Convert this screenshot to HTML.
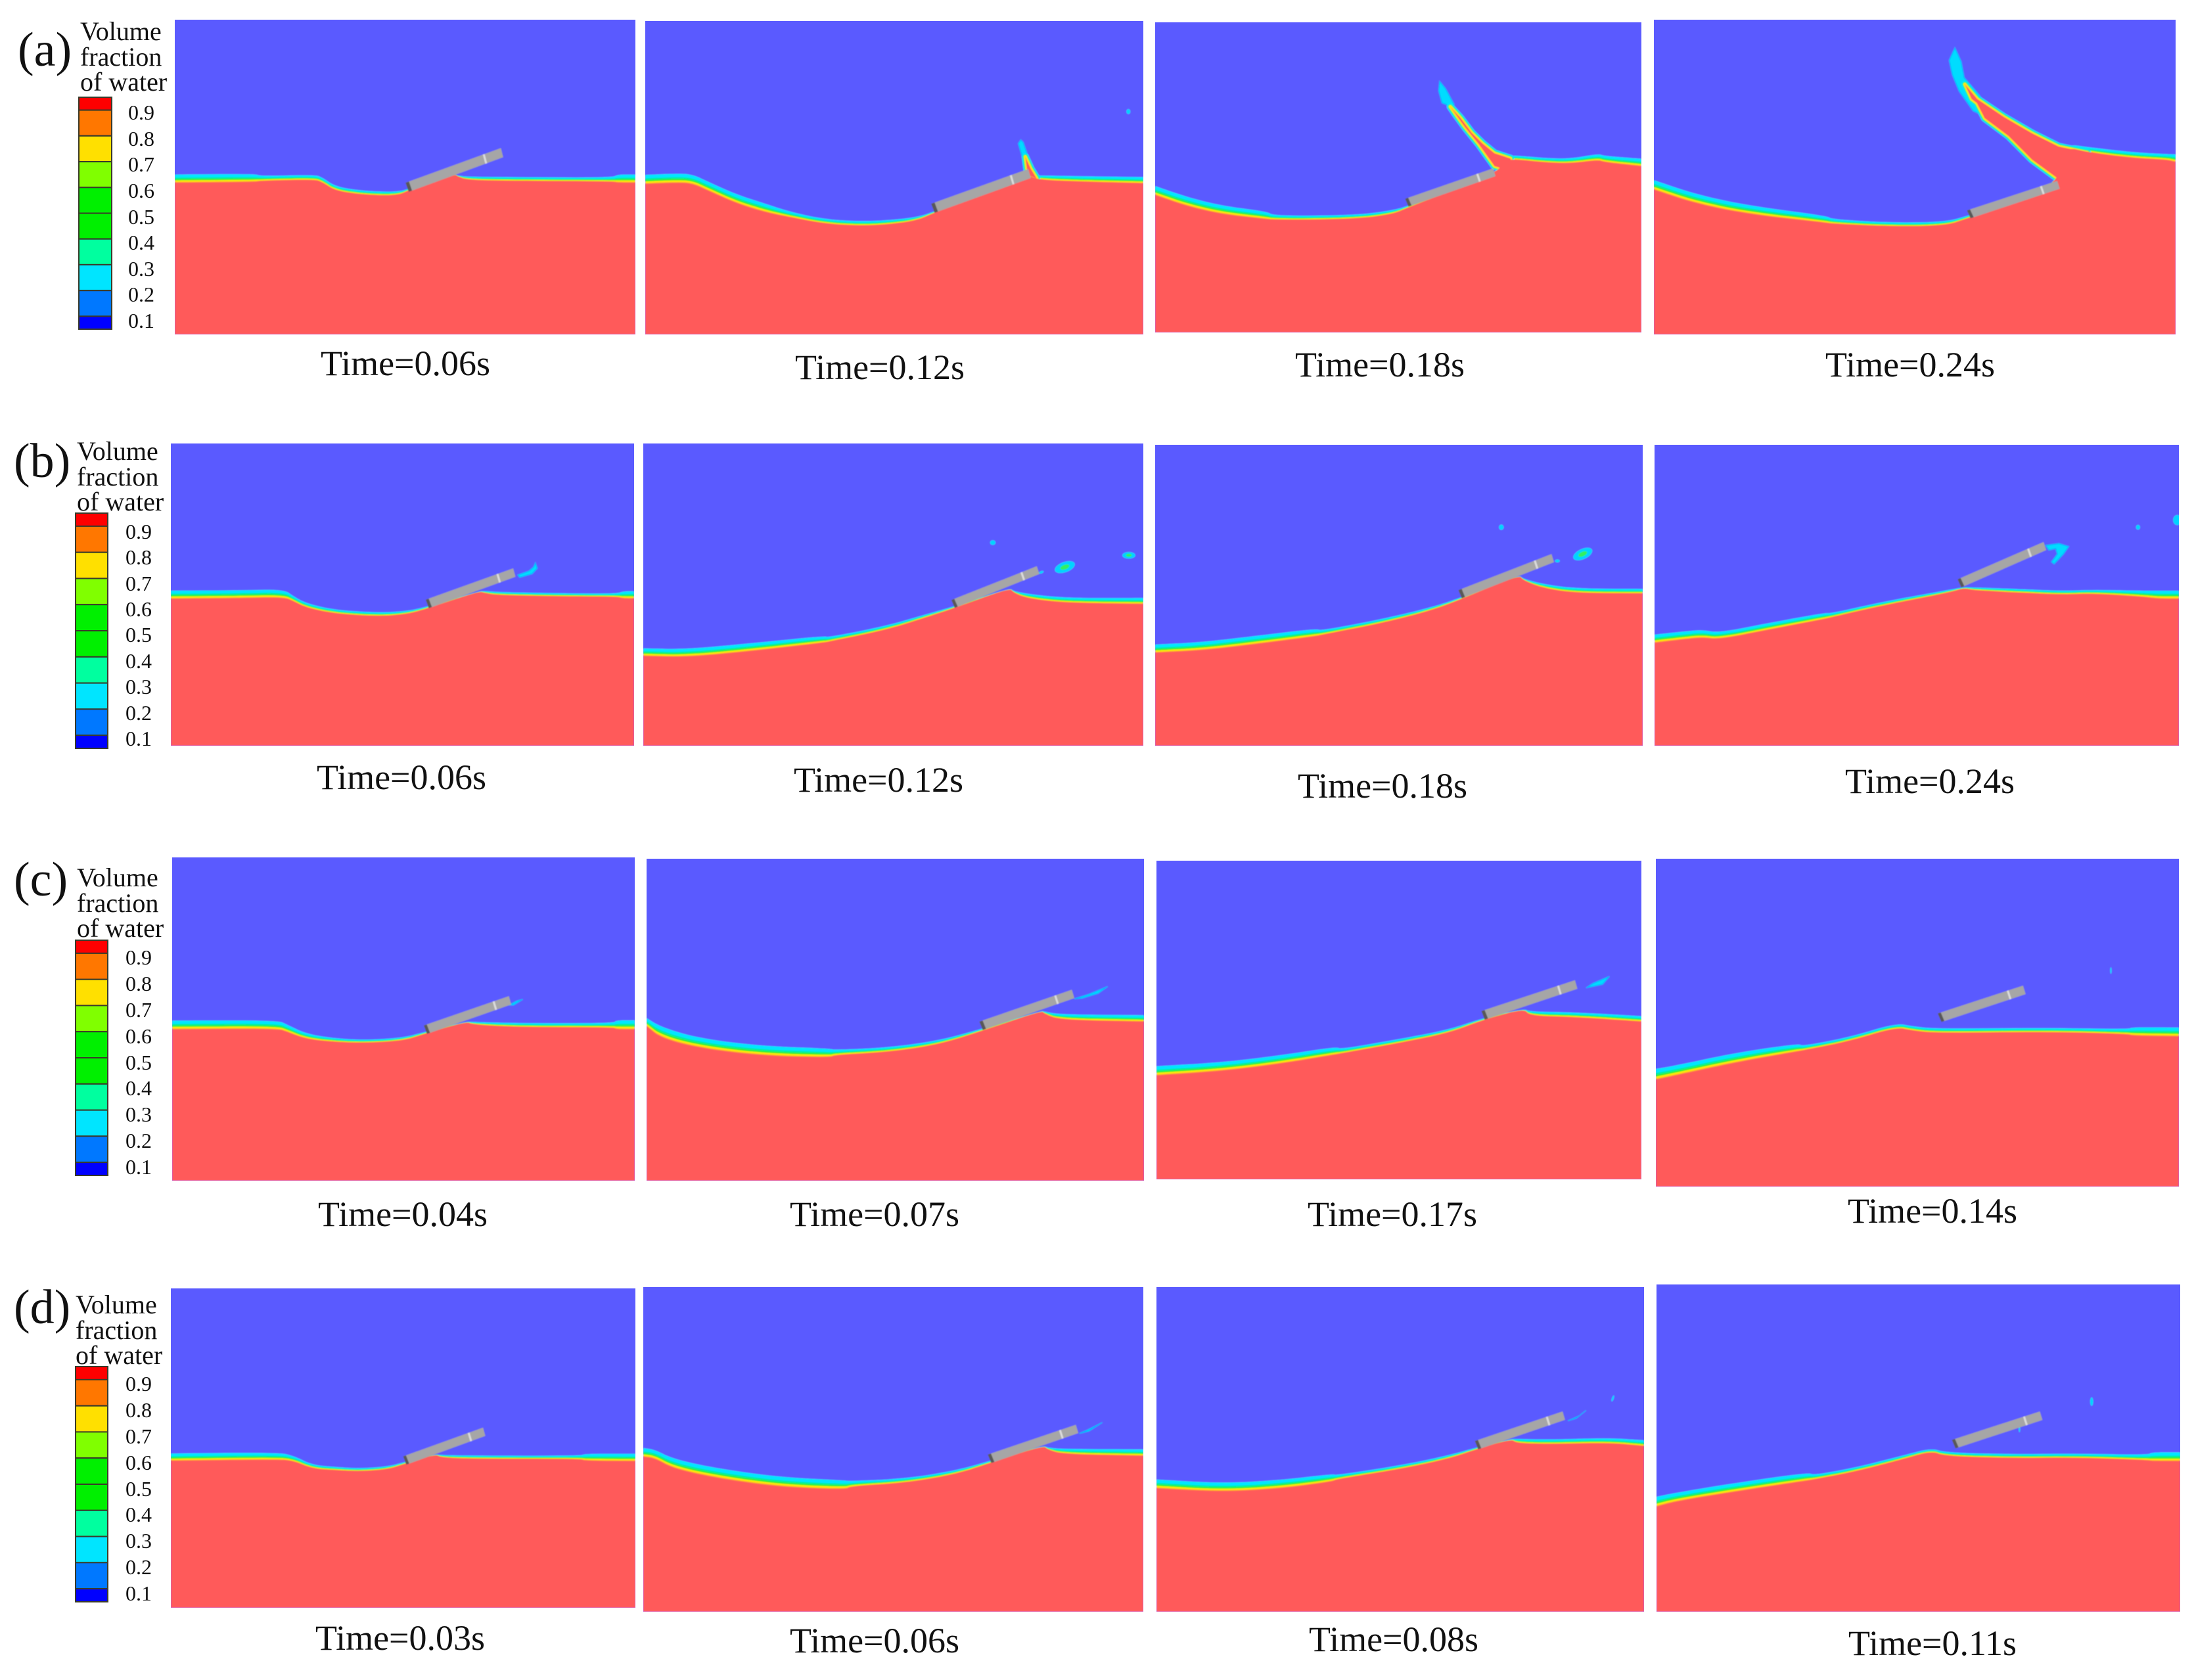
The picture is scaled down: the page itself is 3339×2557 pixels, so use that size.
<!DOCTYPE html>
<html lang="en">
<head>
<meta charset="utf-8">
<title>Volume fraction of water contours</title>
<style>
html,body{margin:0;padding:0;background:#fff;}
svg{display:block;}
text{font-family:"Liberation Serif",serif;fill:#111;}
.t{font-size:54px;text-anchor:middle;}
.p{font-size:74px;}
.v{font-size:40px;}
.l{font-size:32px;}
</style>
</head>
<body>
<svg id="figure" xmlns="http://www.w3.org/2000/svg" width="3339" height="2557" viewBox="0 0 3339 2557">
<defs>
<filter id="soft" x="-2%" y="-2%" width="104%" height="104%"><feGaussianBlur stdDeviation="0.9"/></filter>
</defs>
<rect x="0" y="0" width="3339" height="2557" fill="#ffffff"/>
<g id="panels"></g>
<g id="legends"></g>

<text class="p" x="27" y="100">(a)</text>
<text class="p" x="21" y="726">(b)</text>
<text class="p" x="21" y="1363">(c)</text>
<text class="p" x="21" y="2014">(d)</text>

<g><text class="v" x="122" y="61">Volume</text><text class="v" x="122" y="100">fraction</text><text class="v" x="122" y="138">of water</text></g>
<g><text class="v" x="117" y="700">Volume</text><text class="v" x="117" y="739">fraction</text><text class="v" x="117" y="777">of water</text></g>
<g><text class="v" x="117" y="1349">Volume</text><text class="v" x="117" y="1388">fraction</text><text class="v" x="117" y="1426">of water</text></g>
<g><text class="v" x="115" y="1999">Volume</text><text class="v" x="115" y="2038">fraction</text><text class="v" x="115" y="2076">of water</text></g>

<g>
<text class="l" x="195" y="182">0.9</text><text class="l" x="195" y="222">0.8</text><text class="l" x="195" y="261">0.7</text><text class="l" x="195" y="301">0.6</text><text class="l" x="195" y="341">0.5</text><text class="l" x="195" y="380">0.4</text><text class="l" x="195" y="420">0.3</text><text class="l" x="195" y="459">0.2</text><text class="l" x="195" y="499">0.1</text>
</g>
<g>
<text class="l" x="191" y="820">0.9</text><text class="l" x="191" y="859">0.8</text><text class="l" x="191" y="899">0.7</text><text class="l" x="191" y="938">0.6</text><text class="l" x="191" y="977">0.5</text><text class="l" x="191" y="1017">0.4</text><text class="l" x="191" y="1056">0.3</text><text class="l" x="191" y="1096">0.2</text><text class="l" x="191" y="1135">0.1</text>
</g>
<g>
<text class="l" x="191" y="1468">0.9</text><text class="l" x="191" y="1508">0.8</text><text class="l" x="191" y="1548">0.7</text><text class="l" x="191" y="1588">0.6</text><text class="l" x="191" y="1628">0.5</text><text class="l" x="191" y="1667">0.4</text><text class="l" x="191" y="1707">0.3</text><text class="l" x="191" y="1747">0.2</text><text class="l" x="191" y="1787">0.1</text>
</g>
<g>
<text class="l" x="191" y="2117">0.9</text><text class="l" x="191" y="2157">0.8</text><text class="l" x="191" y="2197">0.7</text><text class="l" x="191" y="2237">0.6</text><text class="l" x="191" y="2277">0.5</text><text class="l" x="191" y="2316">0.4</text><text class="l" x="191" y="2356">0.3</text><text class="l" x="191" y="2396">0.2</text><text class="l" x="191" y="2436">0.1</text>
</g>

<text class="t" x="617" y="571">Time=0.06s</text>
<text class="t" x="1339" y="577">Time=0.12s</text>
<text class="t" x="2100" y="573">Time=0.18s</text>
<text class="t" x="2907" y="573">Time=0.24s</text>
<text class="t" x="611" y="1201">Time=0.06s</text>
<text class="t" x="1337" y="1205">Time=0.12s</text>
<text class="t" x="2104" y="1214">Time=0.18s</text>
<text class="t" x="2937" y="1207">Time=0.24s</text>
<text class="t" x="613" y="1866">Time=0.04s</text>
<text class="t" x="1331" y="1866">Time=0.07s</text>
<text class="t" x="2119" y="1866">Time=0.17s</text>
<text class="t" x="2941" y="1861">Time=0.14s</text>
<text class="t" x="609" y="2511">Time=0.03s</text>
<text class="t" x="1331" y="2515">Time=0.06s</text>
<text class="t" x="2121" y="2513">Time=0.08s</text>
<text class="t" x="2941" y="2519">Time=0.11s</text>
</svg>

<script>
/* Values are in panel units: x = % of panel width, h = % of panel height above its floor. */
const legendColors = ['#ff0000','#ff7700','#ffe000','#80ff00','#00f000','#00f000','#00ff9f','#00e5ff','#0078ff','#0000ff'];
const legendWeights = [0.5,1,1,1,1,1,1,1,1,0.5];
const bandFractions = [1,0.62,0.45,0.28,0.1];
const bandColors = ['#00e6ff','#00f0a0','#30f030','#ffe800','#ff9a30'];

const a1X=[0,17.6,18.5,30.3,32,34.8,40.2,45.8,49,50.8,60.8,61.4,63.5,71.2,94.9,96.2,100];
const a1H=[48.2,48.4,48.8,49.2,48.4,45.7,44.5,44.1,44.5,45.8,50.9,50.2,49.1,48.8,48.6,48.2,48.2];
const a1B=[2.6,2.6,1.5,1.5,1.5,1.3,1.2,1.2,1,0.5,0,0.3,1,1.2,1.2,2.6,2.6];
const a1Plate=[50.1,48.2,70.8,59.2,2.9];

const a2X=[0,6.2,9.4,12.6,18.5,24.3,28.8,36,43.7,50.2,54.8,58,77.1,77.8,79.7,85.9,100];
const a2H=[48,48.4,48.2,45.9,41.7,38.9,37.5,35.3,34.6,35.3,36.5,38.8,50.6,50.1,49.3,48.8,48.2];
const a2B=[2.9,2.9,2.9,2.8,2.8,2.7,1.7,1.4,1.4,1.3,1,0.4,0,0.5,1.4,1.7,2];
const a2Plate=[57.4,41.7,76.9,52.8,2.9];
const a2Jet=[[76.8,50.8],[76.3,56.7],[77.4,52.9],[78.6,49.8]];
const a2Flame=[[75.4,62.1],[75.9,61.3],[76.8,57.1],[77.4,52.9],[76.7,52.9],[75.6,57.1],[74.9,60.9]];
const a2Drops=[[97,71.1,0.4,0.8,0,0]];

const a3X=[0,6.6,13.8,23.2,24,31.9,42.7,49.2,51.8,70,71.7,73.1,76,80.3,85.4,91.2,92.3,100];
const a3H=[44.3,40.7,38.1,36.5,36.4,36.3,36.8,38.3,40.2,51,55.4,55.8,55.5,54.8,54.5,55.6,54.9,53.6];
const a3B=[2.9,2.9,2.7,2.4,1.4,1.3,1.2,1.2,0.5,0,0.5,1.3,1.3,1.4,1.5,2,2,2.4];
const a3Plate=[51.4,43.1,69.5,52.9,2.5];
const a3Jet=[[69.8,53.6],[66.6,60.6],[63.7,66.2],[61.9,70.1],[60.7,72.8],[62.8,69.2],[65.1,64.4],[67.3,61],[69.8,57.8],[73.1,56.1],[73.5,51.9]];
const a3Flame=[[58.5,81],[59.7,78.7],[61.5,73.5],[60.4,73.1],[59,74],[58.3,77.9]];

const a4X=[0,8,18.1,33.3,34,45,55.8,60.2,77.7,78,84.1,92.2,98.2,100];
const a4H=[46,41.6,38.2,35.4,35.2,34.3,34.5,36.9,46.7,59.9,57.6,56,55.5,54.8];
const a4B=[3,2.9,2.7,2.2,1.4,1.2,1.2,0.8,0,0.8,1.7,1.8,1.8,2.4];
const a4Plate=[60,39.4,77.3,48.8,2.5];
const a4Jet=[[77.2,49.8],[72.5,55.5],[68,63],[63.4,68.7],[61.9,73.5],[60.9,74.8],[59.6,79.5],[62,74.8],[67.1,69.1],[72.5,63.9],[77.6,59.7],[83.1,57.8],[85,47]];
const a4Flame=[[57.7,91.1],[58.9,86.7],[59.5,81.6],[62.6,75.6],[62.9,69.7],[61.2,71],[58.5,77.3],[57.2,82.5],[56.6,87.1]];

const b1X=[0,14.9,24.4,26.5,29.2,35.3,44.8,50.9,55.4,66.5,67.8,70.6,85.5,96.3,97.7,100];
const b1H=[48.6,48.8,49.1,47.8,45.7,43.7,42.8,43.5,45.4,51.1,50.5,49.8,49.4,49.3,48.7,48.7];
const b1B=[2.7,2.6,2.6,1.6,1.4,1.2,1.2,1,0.6,0,0.7,1,1,1,2.4,2.4];
const b1Plate=[55,48.3,73.9,58.7,2.8];
const b1Flame=[[78.7,60.5],[79.1,58.7],[78,56.9],[75.3,55.7],[74.9,56.5],[77.3,57.8],[78.3,59.1]];

const b2X=[0,8.6,21.1,36.2,37,48.8,56.4,62,73.3,74,76.5,82.8,90.3,100];
const b2H=[29.7,29.3,31.2,34.1,34.4,38.4,42.4,45.4,52.2,50.7,48.9,47.5,47.1,46.9];
const b2B=[2.5,2.6,2.6,2.2,1.4,1.3,1,0.6,0,0.5,1.4,1.6,1.7,2];
const b2Plate=[61.6,48.2,78.7,59.4,2.6];
const b2Drops=[[69.9,67.2,0.55,0.8,0,0],[97.1,63,1.3,1.1,0,1],[84.3,59.1,2.1,1.7,-20,1],[79.6,57.4,0.5,0.4,-20,0]];

const b3X=[0,9.8,20.8,33.1,34,46.7,56.3,62.4,74.7,75.4,79.5,86.3,100];
const b3H=[30.9,31.7,33.8,36.4,36.8,40.8,44.8,48.4,56.8,55,52.4,50.7,50.6];
const b3B=[2.7,2.7,2.7,2.5,1.4,1.3,1,0.6,0,0.5,1.3,1.5,1.5];
const b3Plate=[62.2,51.7,81.3,63.7,2.7];
const b3Drops=[[71,72.6,0.5,0.9,0,0],[87.7,63.7,2.1,1.7,-25,1],[82.5,61.4,0.5,0.5,0,0]];

const b4X=[0,5.3,9.1,12.3,21.9,32.7,33.5,43.5,56.2,59,60.6,68.9,77.8,83.5,93,96.2,100];
const b4H=[34.2,35.3,36,35.3,38.6,42.2,42.6,46.6,50.9,52.4,51.7,50.9,50.2,50.6,49.5,48.8,48.8];
const b4B=[2.7,2.6,2.5,2.2,2.2,2,1.3,1.2,0.9,0.3,0.9,1.2,1.2,1.2,2,2.7,2.7];
const b4Plate=[57.8,55.3,74.2,67.7,2.7];
const b4Flame=[[74.6,66.6],[77.1,67.2],[79,66.2],[78,63.7],[76.2,60.4],[75.7,61.1],[76.8,63.7],[76.5,65.5],[75.2,65]];
const b4Drops=[[92.2,72.6,0.4,0.8,0,0],[99.7,75,0.8,1.7,0,0]];

const c1X=[0,22.8,24.9,29,35.1,41.8,50,54.8,63.6,64.9,74.5,95.5,95.9,100];
const c1H=[46.8,47,46,43.8,42.9,42.6,43.3,45.5,49.2,48.3,47.5,47.4,46.8,46.8];
const c1B=[2.7,2.6,2.2,1.6,1.1,0.9,0.9,0.6,0,0.8,1.2,1.3,2.8,2.8];
const c1Plate=[54.4,48,72.8,57.1,2.6];
const c1Flame=[[75.8,56.1],[73.8,54.3],[72.8,54.3],[74.5,55.6]];

const c2X=[0,2.9,10.5,23.1,37,37.7,48.4,58.5,67.1,79.4,80,83.2,100];
const c2H=[48,44.3,41.2,38.8,38.2,39,39.9,42.2,46.3,52.8,51.8,49.9,49.4];
const c2B=[2.5,3.4,3,3,2.8,1.6,1.4,1.2,0.7,0,0.7,1.7,2];
const c2Plate=[66.9,49.4,85.5,59.3,2.6];
const c2Flame=[[92.7,60.3],[90.8,58.2],[87.6,56.7],[86,56.5],[88.9,57.9]];

const c3X=[0,13.7,26.1,37.1,38,50.8,60.4,67.3,75.8,76.9,86.5,100];
const c3H=[32.6,34,36.4,39.2,39.5,43,46,50,53.6,51.3,50.9,49.5];
const c3B=[2.9,2.7,2.6,2.4,1.3,1.2,1,0.6,0,1.3,1.5,1.7];
const c3Plate=[67,52.8,86.3,62.5,2.7];
const c3Flame=[[93.4,63.7],[92,61.2],[88.6,60.1],[90,61.5]];

const c4X=[0,3.8,15.3,27.4,28,36.9,45.9,49,53.5,75.2,90.4,91,100];
const c4H=[32.6,33.9,37.9,41.3,41.5,44.3,48.6,47.6,46.8,47.2,46.5,46,45.8];
const c4B=[3.3,3,2.9,2.3,1.3,1.2,1.2,1.3,1.3,1.2,1.5,2.6,2.7];
const c4Plate=[53.9,52.8,70.2,61.3,2.6];
const c4Drops=[[87,65.9,0.15,1,0,0]];

const d1X=[0,23,26.4,30.4,35.1,40.5,46.6,50.3,57,58.1,66.2,88.5,88.9,100];
const d1H=[46,46.4,46,43.6,43.1,42.7,43.3,45,48.1,47,46.6,46.6,46,45.9];
const d1B=[2.3,2.2,1.6,1.1,1,0.9,0.9,0.6,0,0.8,1,1,2.2,2.3];
const d1Plate=[50,47.4,67.2,56.4,2.6];

const d2X=[0,2.3,6,14.8,27.4,40.6,41.3,52.6,62.6,69.2,80,80.9,84,100];
const d2H=[47.7,47.3,44.1,41.1,38.4,37.6,38.6,39.7,42.4,45.7,51.2,49.9,48.5,48];
const d2B=[2.7,2.6,2.9,3,3,2.8,1.6,1.3,1.1,0.7,0,0.6,1.6,2];
const d2Plate=[68.9,48.4,86.5,57.6,2.6];
const d2Flame=[[91.8,58.3],[89.1,55.6],[87.2,54.9],[89.1,56.2]];

const d3X=[0,13.7,25.9,36.2,36.9,50.6,60.1,65.6,72.8,73.8,80.6,92.9,100];
const d3H=[38,36.9,38,40.1,40.8,44.1,47.2,50,53.2,51.9,51.6,52,51];
const d3B=[2.7,2.6,2.6,2.3,1.2,1.1,1,0.6,0,1.3,1.4,1.5,1.8];
const d3Plate=[65.3,52.6,83.3,61.7,2.6];
const d3Flame=[[88.1,62],[86.1,59.6],[84.4,58.8],[86.7,60.3]];
const d3Drops=[[93.6,65.7,0.2,1,20,0]];

const d4X=[0,3.6,15,29,30,37.9,46.8,52.5,55.1,68.4,79.9,93.9,94.5,100];
const d4H=[32.1,33.7,36.7,40.1,40.4,42.8,46.5,49.1,47.5,46.9,47.1,46.3,46,46];
const d4B=[3,2.6,2.6,2.4,1.3,1.2,1.1,0.9,1.1,1.2,1.2,1.6,2.7,2.7];
const d4Plate=[56.4,52.5,73.2,61.2,2.6];
const d4Drops=[[83.1,64.2,0.3,1.3,0,0],[69.3,55.8,0.15,1,0,0]];

const panels=[
 {id:'a1',box:[266,30,967,509],x:a1X,h:a1H,b:a1B,plate:a1Plate},
 {id:'a2',box:[982,32,1740,509],x:a2X,h:a2H,b:a2B,plate:a2Plate,jet:a2Jet,flame:a2Flame,drops:a2Drops},
 {id:'a3',box:[1758,34,2498,506],x:a3X,h:a3H,b:a3B,plate:a3Plate,jet:a3Jet,flame:a3Flame},
 {id:'a4',box:[2517,30,3311,509],x:a4X,h:a4H,b:a4B,plate:a4Plate,jet:a4Jet,flame:a4Flame},
 {id:'b1',box:[260,675,965,1135],x:b1X,h:b1H,b:b1B,plate:b1Plate,flame:b1Flame},
 {id:'b2',box:[979,675,1740,1135],x:b2X,h:b2H,b:b2B,plate:b2Plate,drops:b2Drops},
 {id:'b3',box:[1758,677,2500,1135],x:b3X,h:b3H,b:b3B,plate:b3Plate,drops:b3Drops},
 {id:'b4',box:[2518,677,3316,1135],x:b4X,h:b4H,b:b4B,plate:b4Plate,flame:b4Flame,drops:b4Drops},
 {id:'c1',box:[262,1305,966,1797],x:c1X,h:c1H,b:c1B,plate:c1Plate,flame:c1Flame},
 {id:'c2',box:[984,1307,1741,1797],x:c2X,h:c2H,b:c2B,plate:c2Plate,flame:c2Flame},
 {id:'c3',box:[1760,1310,2498,1795],x:c3X,h:c3H,b:c3B,plate:c3Plate,flame:c3Flame},
 {id:'c4',box:[2520,1307,3316,1806],x:c4X,h:c4H,b:c4B,plate:c4Plate,drops:c4Drops},
 {id:'d1',box:[260,1961,967,2447],x:d1X,h:d1H,b:d1B,plate:d1Plate},
 {id:'d2',box:[979,1959,1740,2453],x:d2X,h:d2H,b:d2B,plate:d2Plate,flame:d2Flame},
 {id:'d3',box:[1760,1959,2502,2453],x:d3X,h:d3H,b:d3B,plate:d3Plate,flame:d3Flame,drops:d3Drops},
 {id:'d4',box:[2521,1955,3318,2453],x:d4X,h:d4H,b:d4B,plate:d4Plate,drops:d4Drops}
];
const legendBoxes=[[120,148,50,353],[115,781,49,358],[115,1431,49,358],[115,2080,49,358]];
const legendIds=['a','b','c','d'];

const NS='http://www.w3.org/2000/svg';
function mk(tag,attrs,parent){
  const e=document.createElementNS(NS,tag);
  for(const k in attrs){e.setAttribute(k,attrs[k]);}
  parent.appendChild(e);
  return e;
}
function scaleX(p,v){return p.box[0]+v/100*(p.box[2]-p.box[0]);}
function scaleY(p,v){return p.box[3]-v/100*(p.box[3]-p.box[1]);}
function chaikin(xs,hs,bs){
  let x=xs,h=hs,b=bs;
  for(let it=0;it<3;it++){
    const nx=[x[0]],nh=[h[0]],nb=[b[0]];
    for(let i=0;i<x.length-1;i++){
      nx.push(x[i]*0.75+x[i+1]*0.25,x[i]*0.25+x[i+1]*0.75);
      nh.push(h[i]*0.75+h[i+1]*0.25,h[i]*0.25+h[i+1]*0.75);
      nb.push(b[i]*0.75+b[i+1]*0.25,b[i]*0.25+b[i+1]*0.75);
    }
    nx.push(x[x.length-1]);nh.push(h[h.length-1]);nb.push(b[b.length-1]);
    x=nx;h=nh;b=nb;
  }
  return {x:x,h:h,b:b};
}
function surfacePoints(p,s,frac){
  const pts=[];
  for(let i=0;i<s.x.length;i++){
    pts.push(scaleX(p,s.x[i]).toFixed(1)+','+scaleY(p,s.h[i]+s.b[i]*frac).toFixed(1));
  }
  pts.push(p.box[2]+','+p.box[3]);
  pts.push(p.box[0]+','+p.box[3]);
  return pts.join(' ');
}
function pairPoints(p,arr){
  return arr.map(function(q){return scaleX(p,q[0]).toFixed(1)+','+scaleY(p,q[1]).toFixed(1);}).join(' ');
}

const root=document.getElementById('panels');
const defs=document.querySelector('defs');
panels.forEach(function(p){
  const cp=mk('clipPath',{id:'clip-'+p.id},defs);
  mk('rect',{x:p.box[0],y:p.box[1],width:p.box[2]-p.box[0],height:p.box[3]-p.box[1]},cp);
  const g=mk('g',{'clip-path':'url(#clip-'+p.id+')'},root);
  
  
  const inner=mk('g',{filter:'url(#soft)'},g);
  const air=mk('rect',{x:p.box[0]-5,y:p.box[1]-5,width:p.box[2]-p.box[0]+10,height:p.box[3]-p.box[1]+10,fill:'#5a5aff'},inner);
  
  
  const s=chaikin(p.x,p.h,p.b);
  bandFractions.forEach(function(f,i){
    const band=mk('polygon',{points:surfacePoints(p,s,f),fill:bandColors[i]},inner);
    
    
  });
  if(p.flame){
    const fl=mk('polygon',{points:pairPoints(p,p.flame),fill:'#00dcff',stroke:'#00b0ff','stroke-width':1.5},inner);
    
    
  }
  if(p.jet){
    const jetPts=pairPoints(p,p.jet);
    [[11,'#00e6ff'],[7.5,'#20f070'],[4.5,'#ffe800']].forEach(function(st){
      const j=mk('polygon',{points:jetPts,fill:'none',stroke:st[1],'stroke-width':st[0],'stroke-linejoin':'round'},inner);
      
      
    });
  }
  const water=mk('polygon',{points:surfacePoints(p,s,0),fill:'#ff5a5a'},inner);
  
  
  if(p.jet){
    const jc=mk('polygon',{points:pairPoints(p,p.jet),fill:'#ff5a5a'},inner);
    
    
  }
  (p.drops||[]).forEach(function(d){
    const cx=scaleX(p,d[0]),cy=scaleY(p,d[1]);
    const rx=d[2]/100*(p.box[2]-p.box[0]),ry=d[3]/100*(p.box[3]-p.box[1]);
    const e=mk('ellipse',{cx:cx,cy:cy,rx:rx,ry:ry,fill:'#00d4ff',transform:'rotate('+d[4]+' '+cx+' '+cy+')'},inner);
    
    
    if(d[5]){
      const c=mk('ellipse',{cx:cx,cy:cy,rx:rx*0.45,ry:ry*0.45,fill:'#30f060',transform:'rotate('+d[4]+' '+cx+' '+cy+')'},inner);
      
      
    }
  });
  const pl=p.plate;
  const tl=[pl[0],pl[1]],tr=[pl[2],pl[3]],br=[pl[2]+0.5,pl[3]-pl[4]],bl=[pl[0]+0.7,pl[1]-pl[4]];
  const bodyEl=mk('polygon',{points:pairPoints(p,[tl,tr,br,bl]),fill:'#a6a6a6'},inner);
  
  
  const f0=0.035;
  const tl2=[tl[0]+(tr[0]-tl[0])*f0,tl[1]+(tr[1]-tl[1])*f0],bl2=[bl[0]+(br[0]-bl[0])*f0,bl[1]+(br[1]-bl[1])*f0];
  const endEl=mk('polygon',{points:pairPoints(p,[tl,tl2,bl2,bl]),fill:'#585858'},inner);
  
  
  const f1=0.82;
  const jA=[tl[0]+(tr[0]-tl[0])*f1,tl[1]+(tr[1]-tl[1])*f1],jB=[bl[0]+(br[0]-bl[0])*f1,bl[1]+(br[1]-bl[1])*f1];
  const seam=mk('line',{x1:scaleX(p,jA[0]),y1:scaleY(p,jA[1]),x2:scaleX(p,jB[0]),y2:scaleY(p,jB[1]),stroke:'#dcdcdc','stroke-width':3},inner);
  
  
});

const legendRoot=document.getElementById('legends');
legendBoxes.forEach(function(b,n){
  const total=legendWeights.reduce(function(a,c){return a+c;},0);
  let y=b[1];
  legendColors.forEach(function(col,i){
    const ht=legendWeights[i]/total*b[3];
    const r=mk('rect',{x:b[0],y:y.toFixed(1),width:b[2],height:ht.toFixed(1),fill:col,stroke:'#3a3a2a','stroke-width':2},legendRoot);
    
    
    y+=ht;
  });
});
</script>
</body>
</html>
